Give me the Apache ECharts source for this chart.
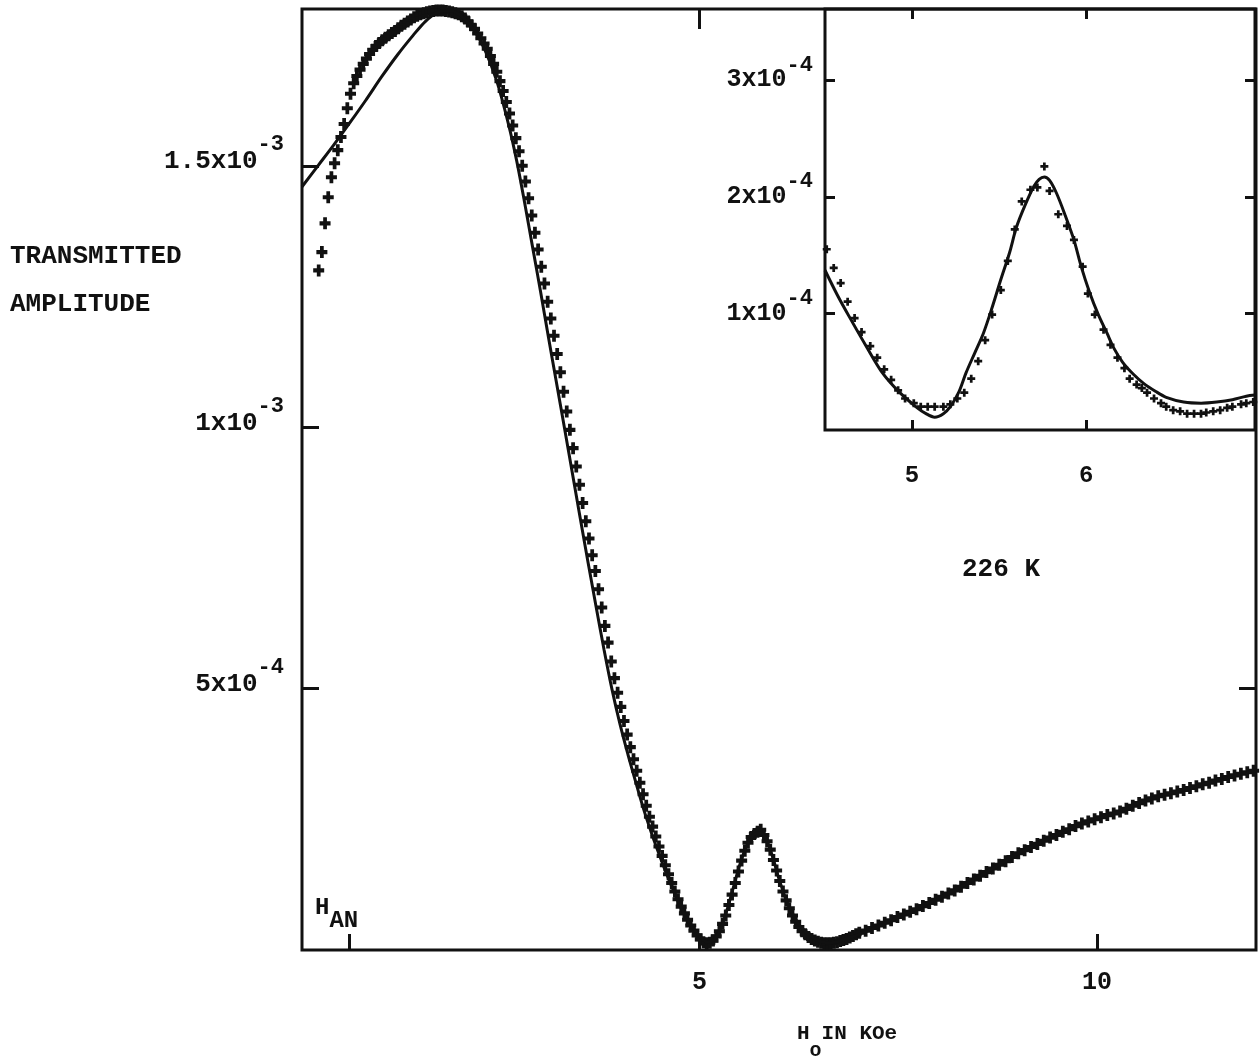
<!DOCTYPE html>
<html>
<head>
<meta charset="utf-8">
<script src="https://cdn.jsdelivr.net/npm/echarts@6/dist/echarts.min.js"></script>
<style>
  html, body { margin: 0; padding: 0; background: #fff; }
  #chart { width: 1260px; height: 1058px; }
</style>
</head>
<body>
<div id="chart"></div>
<script>
// Field H0 in kOe; transmitted amplitude in units of 1e-4.
const hAnField = 0.59;

const mainXTicks = [5, 10];
const mainYTicks = [5, 10, 15];
const mainYMantissa = ['5', '1', '1.5'];
const mainYExponent = ['-4', '-3', '-3'];

const insetXTicks = [5, 6];
const insetYTicks = [1, 2, 3];
const insetYMantissa = ['1', '2', '3'];
const insetYExponent = ['-4', '-4', '-4'];

// computed fit curve, full field range
const mainFit = [
  [0.00,14.6],[0.20,15.0],[0.40,15.4],[0.60,15.82],[0.80,16.25],[1.00,16.7],[1.20,17.12],
  [1.40,17.5],[1.55,17.76],[1.70,17.93],[1.85,17.97],[2.00,17.87],[2.15,17.62],[2.30,17.22],
  [2.45,16.62],[2.60,15.78],[2.70,15.1],[2.80,14.3],[2.90,13.45],[3.00,12.6],[3.10,11.72],
  [3.20,10.86],[3.30,10.0],[3.40,9.13],[3.50,8.26],[3.60,7.4],[3.70,6.56],[3.80,5.74],
  [3.90,4.98],[4.00,4.32],[4.10,3.74],[4.20,3.2],[4.30,2.68],[4.40,2.22],[4.50,1.8],
  [4.60,1.4],[4.70,1.04],[4.80,0.72],[4.90,0.46],[5.00,0.27],[5.10,0.15],[5.20,0.22],
  [5.30,0.55],[5.40,1.05],[5.50,1.6],[5.60,2.02],[5.68,2.2],[5.76,2.25],[5.84,2.12],
  [5.92,1.78],[6.00,1.36],[6.10,0.92],[6.20,0.61],[6.30,0.4],[6.40,0.26],[6.50,0.18],
  [6.60,0.14],[6.70,0.15],[6.80,0.19],[6.90,0.24],[7.00,0.3],[7.20,0.42],[7.40,0.56],
  [7.60,0.7],[7.80,0.84],[8.00,0.98],[8.25,1.18],[8.50,1.39],[8.75,1.61],[9.00,1.84],
  [9.25,2.03],[9.50,2.21],[9.75,2.38],[10.00,2.51],[10.25,2.63],[10.50,2.79],[10.75,2.93],
  [11.00,3.03],[11.25,3.13],[11.50,3.24],[11.75,3.34],[12.00,3.44]
];

// measured points: rise to the main maximum
const risePoints = [
  [0.21,13.0],[0.25,13.35],[0.29,13.9],[0.33,14.4],[0.37,14.78],[0.41,15.05],[0.45,15.3],
  [0.49,15.55],[0.53,15.8],[0.57,16.1],[0.61,16.38],[0.65,16.58],[0.69,16.72],[0.73,16.84],
  [0.77,16.95],[0.81,17.05],[0.85,17.14],[0.89,17.22],[0.93,17.29],[0.97,17.35],[1.01,17.4],
  [1.05,17.45],[1.09,17.5],[1.13,17.54],[1.17,17.58],[1.21,17.63],[1.25,17.68],[1.29,17.72],
  [1.33,17.76],[1.37,17.8],[1.41,17.84],[1.45,17.87],[1.49,17.9],[1.53,17.92],[1.57,17.94],
  [1.61,17.95],[1.65,17.96],[1.69,17.97],[1.73,17.97],[1.77,17.97],[1.81,17.96],[1.85,17.95],
  [1.89,17.94],[1.93,17.92],[1.97,17.9],[2.01,17.86],[2.05,17.82],[2.09,17.76],[2.13,17.69],
  [2.17,17.62],[2.21,17.53],[2.25,17.44],[2.29,17.34],[2.33,17.24],[2.37,17.1],[2.41,16.95],
  [2.45,16.8],[2.49,16.62],[2.53,16.43],[2.57,16.22],[2.61,16.0],[2.65,15.77],[2.69,15.53]
];

// measured points: falling edge down to the first minimum
const fallPoints = [
  [2.73,15.28],[2.77,15.0],[2.81,14.7],[2.85,14.38],[2.89,14.05],[2.93,13.72],[2.97,13.4],
  [3.01,13.07],[3.05,12.75],[3.09,12.4],[3.13,12.08],[3.17,11.75],[3.21,11.4],[3.25,11.05],
  [3.29,10.68],[3.33,10.3],[3.37,9.95],[3.41,9.6],[3.45,9.25],[3.49,8.9],[3.53,8.55],
  [3.57,8.2],[3.61,7.87],[3.65,7.55],[3.69,7.25],[3.73,6.9],[3.77,6.55],[3.81,6.2],
  [3.85,5.88],[3.89,5.52],[3.93,5.2],[3.97,4.92],[4.01,4.65],[4.05,4.38],[4.09,4.12],
  [4.13,3.88],[4.17,3.65],[4.21,3.43],[4.25,3.2],[4.29,2.98],[4.33,2.76],[4.37,2.55],
  [4.41,2.36],[4.45,2.17],[4.49,1.98],[4.53,1.8],[4.57,1.62],[4.61,1.45],[4.65,1.28],
  [4.69,1.12],[4.73,0.97],[4.77,0.83],[4.81,0.7],[4.85,0.58],[4.89,0.47],[4.93,0.37],
  [4.97,0.28],[5.01,0.2]
];

// measured points: the two minima and the small peak between them
const valleyPoints = [
  [5.05,0.15],[5.09,0.13],[5.13,0.14],[5.17,0.18],[5.21,0.26],[5.25,0.36],[5.29,0.5],
  [5.33,0.66],[5.37,0.86],[5.41,1.06],[5.45,1.28],[5.49,1.5],[5.53,1.71],[5.57,1.9],
  [5.61,2.05],[5.65,2.16],[5.69,2.22],[5.73,2.26],[5.77,2.3],[5.81,2.2],[5.85,2.08],
  [5.89,1.92],[5.93,1.72],[5.97,1.52],[6.01,1.32],[6.05,1.12],[6.09,0.95],[6.13,0.8],
  [6.17,0.66],[6.21,0.54],[6.25,0.44],[6.29,0.36],[6.33,0.3],[6.37,0.25],[6.41,0.21],
  [6.45,0.18],[6.49,0.16],[6.53,0.14],[6.57,0.13],[6.61,0.13],[6.65,0.13],[6.69,0.14],
  [6.73,0.15],[6.77,0.17],[6.81,0.19],[6.85,0.21],[6.89,0.24],[6.93,0.27],[6.97,0.3],
  [7.01,0.33]
];

// measured points: high-field tail
const tailPoints = [
  [7.09,0.37],[7.17,0.42],[7.25,0.47],[7.33,0.52],[7.41,0.57],[7.49,0.63],[7.57,0.68],
  [7.65,0.73],[7.73,0.78],[7.81,0.84],[7.89,0.9],[7.97,0.96],[8.05,1.02],[8.13,1.08],
  [8.21,1.14],[8.29,1.21],[8.37,1.28],[8.45,1.35],[8.53,1.42],[8.61,1.49],[8.69,1.56],
  [8.77,1.63],[8.85,1.7],[8.93,1.78],[9.01,1.85],[9.09,1.91],[9.17,1.97],[9.25,2.03],
  [9.33,2.09],[9.41,2.15],[9.49,2.2],[9.57,2.26],[9.65,2.31],[9.73,2.37],[9.81,2.42],
  [9.89,2.46],[9.97,2.5],[10.05,2.54],[10.13,2.58],[10.21,2.61],[10.29,2.65],[10.37,2.7],
  [10.45,2.76],[10.53,2.81],[10.61,2.86],[10.69,2.9],[10.77,2.94],[10.85,2.97],[10.93,3.0],
  [11.01,3.03],[11.09,3.06],[11.17,3.1],[11.25,3.13],[11.33,3.17],[11.41,3.2],[11.49,3.24],
  [11.57,3.27],[11.65,3.31],[11.73,3.34],[11.81,3.37],[11.89,3.4],[11.97,3.43]
];

// expanded scan around the small peak
const insetFit = [
  [4.50,1.37],[4.57,1.16],[4.64,0.97],[4.74,0.71],[4.83,0.49],[4.93,0.32],[5.03,0.19],
  [5.08,0.14],[5.13,0.11],[5.18,0.14],[5.22,0.2],[5.27,0.33],[5.31,0.49],[5.36,0.66],
  [5.41,0.83],[5.46,1.05],[5.51,1.29],[5.56,1.52],[5.60,1.74],[5.65,1.93],[5.70,2.09],
  [5.73,2.15],[5.76,2.17],[5.79,2.14],[5.83,2.03],[5.88,1.84],[5.93,1.63],[5.97,1.41],
  [6.02,1.18],[6.07,0.99],[6.12,0.83],[6.16,0.7],[6.21,0.58],[6.27,0.48],[6.33,0.4],
  [6.40,0.33],[6.46,0.28],[6.56,0.24],[6.66,0.23],[6.75,0.24],[6.84,0.26],[6.92,0.29],
  [6.97,0.3]
];

const insetPoints = [
  [4.51,1.55],[4.55,1.39],[4.59,1.26],[4.63,1.10],[4.67,0.96],[4.71,0.84],[4.76,0.72],
  [4.80,0.62],[4.84,0.52],[4.88,0.43],[4.92,0.34],[4.96,0.27],[5.01,0.23],[5.05,0.20],
  [5.09,0.20],[5.13,0.20],[5.18,0.20],[5.22,0.22],[5.26,0.27],[5.30,0.32],[5.34,0.44],
  [5.38,0.59],[5.42,0.77],[5.46,0.99],[5.51,1.20],[5.55,1.45],[5.59,1.72],[5.63,1.96],
  [5.68,2.06],[5.72,2.08],[5.76,2.26],[5.79,2.05],[5.84,1.85],[5.89,1.75],[5.93,1.63],
  [5.98,1.40],[6.01,1.17],[6.05,0.99],[6.10,0.86],[6.14,0.73],[6.18,0.62],[6.22,0.53],
  [6.25,0.44],[6.29,0.39],[6.32,0.36],[6.35,0.32],[6.39,0.27],[6.43,0.23],[6.46,0.20],
  [6.50,0.17],[6.54,0.16],[6.58,0.14],[6.62,0.14],[6.66,0.14],[6.69,0.15],[6.73,0.16],
  [6.77,0.17],[6.81,0.19],[6.84,0.20],[6.89,0.22],[6.92,0.23],[6.96,0.24]
];

const INK = '#111';
const FONT = '"Liberation Mono", "DejaVu Sans Mono", monospace';
const PLUS = 'path://M3.3,0H6.7V3.3H10V6.7H6.7V10H3.3V6.7H0V3.3H3.3Z';

function powerLabel(ticks, mantissa, exponent) {
  return function (v) {
    const i = ticks.findIndex(function (t) { return Math.abs(t - v) < 1e-9; });
    if (i < 0) return '';
    return '{m|' + mantissa[i] + 'x10}{e|' + exponent[i] + '}';
  };
}

function tickStyle(len, values) {
  return { show: true, inside: true, length: len, customValues: values,
           lineStyle: { color: INK, width: 3 } };
}

// the frame is drawn by the grid border; axes only carry ticks and labels
const noLine = { show: false, onZero: false };
const noSplit = { show: false };

const chart = echarts.init(document.getElementById('chart'), null, { renderer: 'canvas' });

chart.setOption({
  animation: false,
  backgroundColor: '#fff',
  grid: [
    { left: 302, top: 9, width: 954, height: 941, show: true, borderColor: INK, borderWidth: 3,
      backgroundColor: 'transparent', containLabel: false, outerBoundsMode: 'none' },
    { left: 825, top: 9, width: 430, height: 421, show: true, borderColor: INK, borderWidth: 3,
      backgroundColor: 'transparent', containLabel: false, outerBoundsMode: 'none' }
  ],
  xAxis: [
    { gridIndex: 0, type: 'value', min: 0, max: 12, position: 'bottom',
      axisLine: noLine, splitLine: noSplit,
      axisTick: tickStyle(16, [hAnField].concat(mainXTicks)),
      axisLabel: { show: true, customValues: mainXTicks, margin: 20, color: INK,
                   fontFamily: FONT, fontWeight: 'bold', fontSize: 25 } },
    { gridIndex: 0, type: 'value', min: 0, max: 12, position: 'top',
      axisLine: noLine, splitLine: noSplit,
      axisTick: tickStyle(20, [5]), axisLabel: { show: false } },
    { gridIndex: 1, type: 'value', min: 4.5, max: 6.97, position: 'bottom',
      axisLine: noLine, splitLine: noSplit,
      axisTick: tickStyle(10, insetXTicks),
      axisLabel: { show: true, customValues: insetXTicks, margin: 34, color: INK,
                   fontFamily: FONT, fontWeight: 'bold', fontSize: 24 } },
    { gridIndex: 1, type: 'value', min: 4.5, max: 6.97, position: 'top',
      axisLine: noLine, splitLine: noSplit,
      axisTick: tickStyle(10, insetXTicks), axisLabel: { show: false } }
  ],
  yAxis: [
    { gridIndex: 0, type: 'value', min: 0, max: 18, position: 'left',
      axisLine: noLine, splitLine: noSplit,
      axisTick: tickStyle(17, mainYTicks),
      axisLabel: {
        show: true, customValues: mainYTicks, margin: 18,
        formatter: powerLabel(mainYTicks, mainYMantissa, mainYExponent),
        rich: {
          m: { fontFamily: FONT, fontWeight: 'bold', fontSize: 26, color: INK,
               verticalAlign: 'middle', padding: [0, 0, 8, 0] },
          e: { fontFamily: FONT, fontWeight: 'bold', fontSize: 22, color: INK,
               verticalAlign: 'middle', padding: [0, 0, 42, 0] }
        }
      } },
    { gridIndex: 0, type: 'value', min: 0, max: 18, position: 'right',
      axisLine: noLine, splitLine: noSplit,
      axisTick: tickStyle(17, [5]), axisLabel: { show: false } },
    { gridIndex: 1, type: 'value', min: 0, max: 3.61, position: 'left',
      axisLine: noLine, splitLine: noSplit,
      axisTick: tickStyle(10, insetYTicks),
      axisLabel: {
        show: true, customValues: insetYTicks, margin: 12,
        formatter: powerLabel(insetYTicks, insetYMantissa, insetYExponent),
        rich: {
          m: { fontFamily: FONT, fontWeight: 'bold', fontSize: 25, color: INK,
               verticalAlign: 'middle' },
          e: { fontFamily: FONT, fontWeight: 'bold', fontSize: 22, color: INK,
               verticalAlign: 'middle', padding: [0, 0, 30, 0] }
        }
      } },
    { gridIndex: 1, type: 'value', min: 0, max: 3.61, position: 'right',
      axisLine: noLine, splitLine: noSplit,
      axisTick: tickStyle(10, insetYTicks), axisLabel: { show: false } }
  ],
  series: [
    { type: 'line', xAxisIndex: 0, yAxisIndex: 0, data: mainFit, smooth: 0.3,
      showSymbol: false, clip: true, lineStyle: { color: INK, width: 3 }, z: 3 },
    { type: 'scatter', xAxisIndex: 0, yAxisIndex: 0,
      data: risePoints.concat(fallPoints, valleyPoints, tailPoints),
      symbol: PLUS, symbolSize: [11, 12], itemStyle: { color: INK, opacity: 1 }, z: 2 },
    { type: 'line', xAxisIndex: 2, yAxisIndex: 2, data: insetFit, smooth: 0.3,
      showSymbol: false, clip: true, lineStyle: { color: INK, width: 3 }, z: 3 },
    { type: 'scatter', xAxisIndex: 2, yAxisIndex: 2, data: insetPoints, clip: true,
      symbol: PLUS, symbolSize: [8, 8], itemStyle: { color: INK, opacity: 1 }, z: 2 }
  ],
  graphic: [
    { type: 'text', x: 10, y: 256,
      style: { text: 'TRANSMITTED', fill: INK, font: 'bold 26px ' + FONT, verticalAlign: 'middle' } },
    { type: 'text', x: 10, y: 304,
      style: { text: 'AMPLITUDE', fill: INK, font: 'bold 26px ' + FONT, verticalAlign: 'middle' } },
    { type: 'text', x: 962, y: 569,
      style: { text: '226 K', fill: INK, font: 'bold 26px ' + FONT, verticalAlign: 'middle' } },
    { type: 'text', x: 315, y: 908,
      style: {
        text: '{m|H}{s|AN}', verticalAlign: 'middle',
        rich: {
          m: { fill: INK, fontFamily: FONT, fontWeight: 'bold', fontSize: 24, verticalAlign: 'middle' },
          s: { fill: INK, fontFamily: FONT, fontWeight: 'bold', fontSize: 24, verticalAlign: 'middle',
               padding: [26, 0, 0, 0] }
        }
      } },
    { type: 'text', x: 797, y: 1034,
      style: {
        text: '{m|H}{s|o}{m|IN KOe}', verticalAlign: 'middle',
        rich: {
          m: { fill: INK, fontFamily: FONT, fontWeight: 'bold', fontSize: 21, verticalAlign: 'middle' },
          s: { fill: INK, fontFamily: FONT, fontWeight: 'bold', fontSize: 20, verticalAlign: 'middle',
               padding: [34, 0, 0, 0] }
        }
      } }
  ]
});
</script>
</body>
</html>
